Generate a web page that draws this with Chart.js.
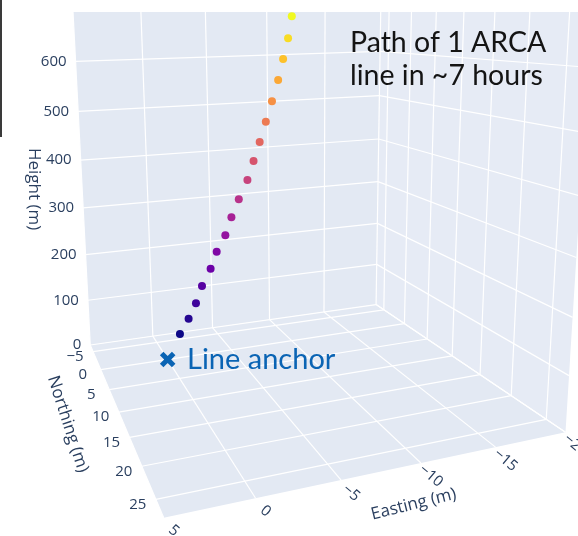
<!DOCTYPE html>
<html>
<head>
<meta charset="utf-8">
<script src="https://cdn.jsdelivr.net/npm/chart.js@4.4.1/dist/chart.umd.min.js"></script>
<style>
  html, body { margin: 0; padding: 0; background: #fff; }
  #wrap { width: 578px; height: 536px; }
</style>
</head>
<body>
<div id="wrap"><canvas id="scene" width="578" height="536"></canvas></div>
<script>
// ===== Data =====
const tickHeight = [0, 100, 200, 300, 400, 500, 600];
const tickNorthing = [-5, 0, 5, 10, 15, 20, 25];
const tickEasting = [5, 0, -5, -10, -15, -20];

// the 18 modules of one line (m)
const domEasting = [-1.0, -1.7, -2.3, -2.8, -3.5, -4.0, -4.7, -5.2, -5.8, -6.5, -7.0, -7.5, -8.0, -8.5, -9.0, -9.4, -9.8, -10.1];
const domNorthing = [0, 0, 0, 0, 0, 0, 0, 0, 0, 0, 0, 0, 0, 0, 0, 0, 0, 0];
const domHeight = [51, 81, 112, 147, 181, 215, 248, 284, 320, 358, 396, 434, 474, 515, 557, 598, 639, 682];

const anchorEasting = [0];
const anchorNorthing = [0];
const anchorHeight = [0];

// axis box
const rangeE = [5, -20];
const rangeN = [-7, 27.5];
const rangeH = [0, 800];

// camera calibration: [E, N, H, px, py]
const camRefs = [
  [5, -7, 0, 90, 345], [5, 27.5, 0, 162, 518], [-20, 27.5, 0, 567, 432], [-20, -7, 0, 376, 304],
  [5, -7, 600, 75, 61], [-20, -7, 600, 380, 52],
  [0, 27.5, 0, 254, 499], [-5, 27.5, 0, 341, 480], [-10, 27.5, 0, 420, 462], [-15, 27.5, 0, 495, 448],
  [5, -7, 100, 88, 300], [5, -7, 200, 85, 255], [5, -7, 300, 83, 208], [5, -7, 400, 81, 161], [5, -7, 500, 79, 110],
  [5, 0, 0, 100, 370], [5, 10, 0, 120, 413], [5, 20, 0, 145, 465],
];

const plasma = ["#0d0887", "#46039f", "#7201a8", "#9c179e", "#bd3786", "#d8576b", "#ed7953", "#fb9f3a", "#fdca26", "#f0f921"];

// ===== Camera =====
function solveLinear(A, b) {
  const n = b.length;
  const M = A.map((r, i) => [...r, b[i]]);
  for (let c = 0; c < n; c++) {
    let p = c;
    for (let r = c + 1; r < n; r++) if (Math.abs(M[r][c]) > Math.abs(M[p][c])) p = r;
    [M[c], M[p]] = [M[p], M[c]];
    for (let r = 0; r < n; r++) {
      if (r === c) continue;
      const f = M[r][c] / M[c][c];
      for (let k = c; k <= n; k++) M[r][k] -= f * M[c][k];
    }
  }
  return M.map((r, i) => r[n] / r[i]);
}

// least squares fit of a 3x4 projection matrix
function fitCamera(refs) {
  const rows = [], rhs = [];
  refs.forEach(([e, n, h, px, py]) => {
    const X = e / 10, Y = n / 10, Z = h / 100, u = px / 100, v = py / 100;
    rows.push([X, Y, Z, 1, 0, 0, 0, 0, -u * X, -u * Y, -u * Z]); rhs.push(u);
    rows.push([0, 0, 0, 0, X, Y, Z, 1, -v * X, -v * Y, -v * Z]); rhs.push(v);
  });
  const m = 11;
  const AtA = Array.from({ length: m }, () => new Array(m).fill(0));
  const Atb = new Array(m).fill(0);
  rows.forEach((r, i) => {
    for (let a = 0; a < m; a++) {
      Atb[a] += r[a] * rhs[i];
      for (let b = 0; b < m; b++) AtA[a][b] += r[a] * r[b];
    }
  });
  return solveLinear(AtA, Atb);
}

const cam = fitCamera(camRefs);

function project(e, n, h) {
  const X = e / 10, Y = n / 10, Z = h / 100;
  const w = cam[8] * X + cam[9] * Y + cam[10] * Z + 1;
  return {
    x: ((cam[0] * X + cam[1] * Y + cam[2] * Z + cam[3]) / w) * 100,
    y: ((cam[4] * X + cam[5] * Y + cam[6] * Z + cam[7]) / w) * 100,
  };
}

function plasmaAt(t) {
  const s = Math.max(0, Math.min(1, t)) * (plasma.length - 1);
  const i = Math.min(plasma.length - 2, Math.floor(s));
  const f = s - i;
  const c0 = plasma[i], c1 = plasma[i + 1];
  const ch = (c, k) => parseInt(c.slice(1 + 2 * k, 3 + 2 * k), 16);
  const mix = [0, 1, 2].map((k) => Math.round(ch(c0, k) + (ch(c1, k) - ch(c0, k)) * f));
  return `rgb(${mix.join(",")})`;
}

// ===== Scene plugin =====
const FONT = '"Open Sans", sans-serif';
const INK = "#2a3f5f";

function px(chart, p) {
  return { x: chart.scales.x.getPixelForValue(p.x), y: chart.scales.y.getPixelForValue(p.y) };
}

function poly(ctx, chart, pts, fill) {
  ctx.beginPath();
  pts.forEach((p, i) => {
    const q = px(chart, p);
    i ? ctx.lineTo(q.x, q.y) : ctx.moveTo(q.x, q.y);
  });
  ctx.closePath();
  ctx.fillStyle = fill;
  ctx.fill();
}

function seg(ctx, chart, a, b) {
  const p = px(chart, a), q = px(chart, b);
  ctx.beginPath();
  ctx.moveTo(p.x, p.y);
  ctx.lineTo(q.x, q.y);
  ctx.stroke();
}

function text(ctx, str, x, y, opts = {}) {
  ctx.save();
  ctx.translate(x, y);
  if (opts.rot) ctx.rotate((opts.rot * Math.PI) / 180);
  ctx.font = opts.font || `15px ${FONT}`;
  ctx.fillStyle = opts.color || INK;
  ctx.textAlign = opts.align || "center";
  ctx.textBaseline = opts.baseline || "middle";
  ctx.fillText(str, 0, 0);
  ctx.restore();
}

const fmt = (v) => (v < 0 ? "\u2212" + Math.abs(v) : String(v));

const scenePlugin = {
  id: "scene3d",
  beforeDatasetsDraw(chart) {
    const ctx = chart.ctx;
    const [e0, e1] = rangeE, [n0, n1] = rangeN, [h0, h1] = rangeH;
    ctx.save();
    const paneColor = "#e3e9f3";
    // floor
    poly(ctx, chart, [project(e0, n0, h0), project(e0, n1, h0), project(e1, n1, h0), project(e1, n0, h0)], paneColor);
    // back wall (northing min)
    poly(ctx, chart, [project(e0, n0, h0), project(e1, n0, h0), project(e1, n0, h1), project(e0, n0, h1)], paneColor);
    // right wall (easting min)
    poly(ctx, chart, [project(e1, n0, h0), project(e1, n1, h0), project(e1, n1, h1), project(e1, n0, h1)], "#e6ebf5");

    ctx.strokeStyle = "#ffffff";
    ctx.lineWidth = 1.2;
    tickEasting.forEach((e) => {
      seg(ctx, chart, project(e, n0, h0), project(e, n1, h0));
      seg(ctx, chart, project(e, n0, h0), project(e, n0, h1));
    });
    tickNorthing.forEach((n) => {
      seg(ctx, chart, project(e0, n, h0), project(e1, n, h0));
      seg(ctx, chart, project(e1, n, h0), project(e1, n, h1));
    });
    tickHeight.concat([700]).forEach((h) => {
      seg(ctx, chart, project(e0, n0, h), project(e1, n0, h));
      seg(ctx, chart, project(e1, n0, h), project(e1, n1, h));
    });
    // slide crop above the scene
    ctx.fillStyle = "#ffffff";
    ctx.fillRect(0, 0, chart.width, 12);
    ctx.fillStyle = "#3a3a3a";
    ctx.fillRect(0, 0, 2, 137);
    ctx.restore();
  },
  afterDatasetsDraw(chart) {
    const ctx = chart.ctx;
    const [e0] = rangeE, [n0, n1] = rangeN;
    tickHeight.forEach((h) => {
      const p = px(chart, project(e0, n0, h));
      text(ctx, fmt(h), p.x - 9, p.y, { align: "right" });
    });
    tickNorthing.forEach((n) => {
      const p = px(chart, project(e0, n, 0));
      text(ctx, fmt(n), p.x - 18, p.y + 5);
    });
    tickEasting.forEach((e) => {
      const p = px(chart, project(e, n1, 0));
      text(ctx, fmt(e), p.x + 10, p.y + 13, { rot: 40 });
    });
    const ht = px(chart, project(e0, n0, 350));
    text(ctx, "Height (m)", ht.x - 48, ht.y + 5, { rot: 90, font: `17px ${FONT}` });
    const nt = px(chart, project(e0, 10, 0));
    text(ctx, "Northing (m)", nt.x - 51, nt.y + 12, { rot: 72, font: `17px ${FONT}` });
    const et = px(chart, project(-7.5, n1, 0));
    text(ctx, "Easting (m)", et.x + 32, et.y + 33, { rot: -14, font: `17px ${FONT}` });

    // slide annotations
    const note = "28.5px Lato, sans-serif";
    text(ctx, "Path of 1 ARCA", 350, 52, { align: "left", baseline: "alphabetic", font: note, color: "#141414" });
    text(ctx, "line in ~7 hours", 350, 85, { align: "left", baseline: "alphabetic", font: note, color: "#141414" });
    text(ctx, "Line anchor", 187, 369, { align: "left", baseline: "alphabetic", font: "29px Lato, sans-serif", color: "#0a64b4" });
  },
};

// ===== Chart =====
const domPoints = domHeight.map((h, i) => project(domEasting[i], domNorthing[i], h));
const domColors = domHeight.map((h) => plasmaAt((h - domHeight[0]) / (domHeight[domHeight.length - 1] - domHeight[0])));
const anchorPoints = anchorHeight.map((h, i) => project(anchorEasting[i], anchorNorthing[i], h));

new Chart(document.getElementById("scene"), {
  type: "scatter",
  data: {
    datasets: [
      {
        label: "Modules",
        data: domPoints,
        pointRadius: 4,
        pointBackgroundColor: domColors,
        pointBorderWidth: 0,
      },
      {
        label: "Anchor",
        data: anchorPoints,
        pointStyle: "crossRot",
        pointRadius: 8.5,
        pointBorderWidth: 5,
        pointBorderColor: "#0a64b4",
      },
    ],
  },
  options: {
    responsive: false,
    animation: false,
    devicePixelRatio: 1,
    layout: { padding: 0, autoPadding: false },
    scales: {
      x: { type: "linear", min: 0, max: 578, display: false },
      y: { type: "linear", min: 0, max: 536, reverse: true, display: false },
    },
    plugins: { legend: { display: false }, tooltip: { enabled: false } },
  },
  plugins: [scenePlugin],
});
</script>
</body>
</html>
